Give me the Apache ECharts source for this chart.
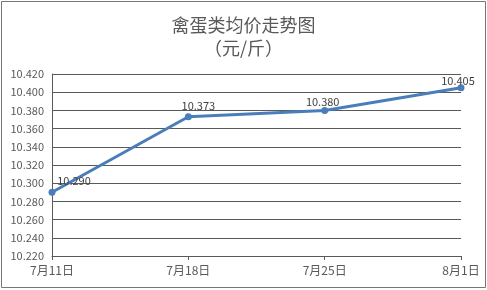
<!DOCTYPE html>
<html><head><meta charset="utf-8">
<script src="https://cdn.jsdelivr.net/npm/echarts@6/dist/echarts.min.js"></script>
<style>html,body{margin:0;padding:0;background:#fff}#c{width:487px;height:290px}</style>
</head><body><div id="c"></div>
<script>
const categories = ['7月11日', '7月18日', '7月25日', '8月1日'];
const values = [10.290, 10.373, 10.380, 10.405];
const labelOffsets = [[22, 2], [10, 2], [-2, 4], [-3, 6]];

const chart = echarts.init(document.getElementById('c'));
const font = '"Noto Sans CJK SC", "Noto Sans", sans-serif';
chart.setOption({
  animation: false,
  graphic: [{type: 'rect', shape: {x: 1.5, y: 1.5, width: 484, height: 286}, style: {fill: 'none', stroke: '#767676', lineWidth: 1}, silent: true}],
  title: {
    text: '禽蛋类均价走势图\n（元/斤）',
    left: 'center', top: 9,
    textStyle: {fontFamily: font, fontSize: 18, fontWeight: 'normal', color: '#595959', lineHeight: 23}
  },
  grid: {left: 52, right: 26, top: 74, bottom: 34},
  xAxis: {
    type: 'category', data: categories, boundaryGap: false,
    axisLine: {lineStyle: {color: '#595959', width: 1}},
    axisTick: {show: true, alignWithLabel: true, length: 4, lineStyle: {color: '#595959'}},
    axisLabel: {fontFamily: font, fontSize: 12, color: '#595959', margin: 8},
    splitLine: {show: false}
  },
  yAxis: {
    type: 'value', min: 10.22, max: 10.42, interval: 0.02,
    axisLine: {show: true, lineStyle: {color: '#595959'}},
    axisTick: {show: false},
    axisLabel: {fontFamily: font, fontSize: 11, color: '#595959', margin: 8, formatter: v => v.toFixed(3)},
    splitLine: {lineStyle: {color: '#595959', width: 1}}
  },
  series: [{
    type: 'line',
    data: values.map((v, i) => ({value: v, label: {offset: labelOffsets[i]}})),
    symbol: 'circle', symbolSize: 7,
    lineStyle: {color: '#4a7ebb', width: 3},
    itemStyle: {color: '#4a7ebb'},
    label: {show: true, position: 'top', distance: 4, fontFamily: font, fontSize: 11, color: '#404040', formatter: p => p.value.toFixed(3)}
  }]
});
</script></body></html>
